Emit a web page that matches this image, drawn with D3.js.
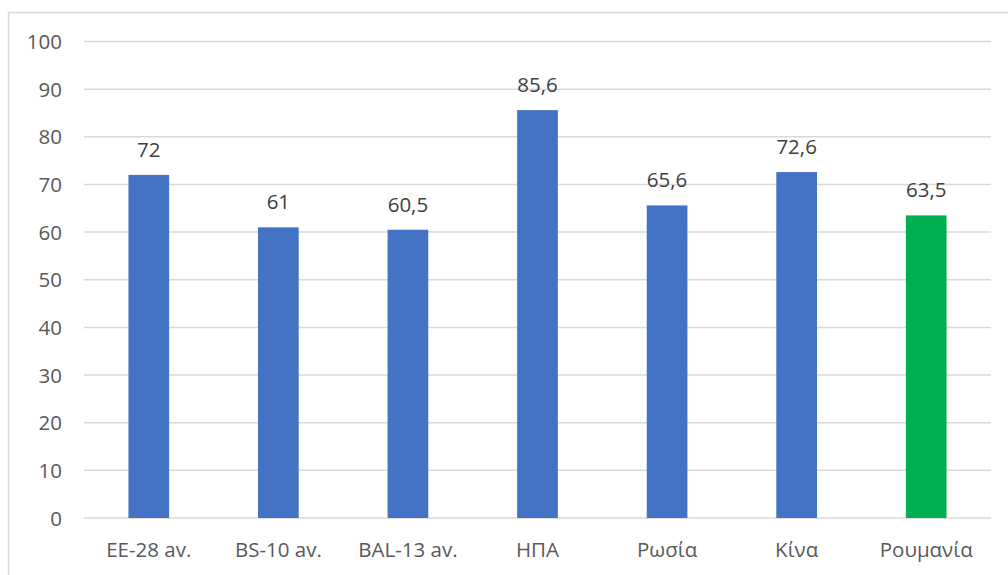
<!DOCTYPE html>
<html><head><meta charset="utf-8">
<script src="https://cdn.jsdelivr.net/npm/d3@7"></script>
<style>body{margin:0;background:#fff;} svg{display:block;}</style>
</head><body>
<svg id="c" width="1008" height="575"></svg>
<script>
const categories = ["EE-28 av.", "BS-10 av.", "BAL-13 av.", "ΗΠΑ", "Ρωσία", "Κίνα", "Ρουμανία"];
const values = [72, 61, 60.5, 85.6, 65.6, 72.6, 63.5];
const labels = ["72", "61", "60,5", "85,6", "65,6", "72,6", "63,5"];
const colors = ["#4472C4", "#4472C4", "#4472C4", "#4472C4", "#4472C4", "#4472C4", "#00B050"];
const yTicks = [0, 10, 20, 30, 40, 50, 60, 70, 80, 90, 100];

const svg = d3.select("#c");
const font = "'Open Sans', sans-serif";
const fs = 20.5;
svg.append("rect").attr("x", 8.5).attr("y", 12.5).attr("width", 1010).attr("height", 570)
  .attr("fill", "#fff").attr("stroke", "#d9d9d9").attr("stroke-width", 1.5);

const x = d3.scaleBand().domain(categories).range([84, 991]).paddingInner(0.686).paddingOuter(0.343);
const y = d3.scaleLinear().domain([0, 100]).range([518, 41.5]);

const g = svg.append("g");
g.selectAll("line.grid").data(yTicks).enter().append("line")
  .attr("x1", 84).attr("x2", 991).attr("y1", d => y(d)).attr("y2", d => y(d))
  .attr("stroke", "#d9d9d9").attr("stroke-width", 1.5);

const yAxis = d3.axisLeft(y).tickValues(yTicks).tickSize(0).tickPadding(0);
const ya = svg.append("g").attr("transform", "translate(62,0)").call(yAxis);
ya.select(".domain").remove();
ya.selectAll("text").attr("font-family", font).attr("font-size", fs).attr("fill", "#595959").attr("dy", "0.35em");

g.selectAll("rect.bar").data(values).enter().append("rect")
  .attr("x", (d, i) => x(categories[i])).attr("width", x.bandwidth())
  .attr("y", d => y(d)).attr("height", d => y(0) - y(d))
  .attr("fill", (d, i) => colors[i]);

g.selectAll("text.val").data(values).enter().append("text")
  .attr("x", (d, i) => x(categories[i]) + x.bandwidth() / 2)
  .attr("y", d => y(d) - 18)
  .attr("text-anchor", "middle").attr("font-family", font).attr("font-size", fs).attr("fill", "#404040")
  .text((d, i) => labels[i]);

const xAxis = d3.axisBottom(x).tickSize(0).tickPadding(0);
const xa = svg.append("g").attr("transform", "translate(0,518)").call(xAxis);
xa.select(".domain").remove();
xa.selectAll("text").attr("font-family", font).attr("font-size", fs).attr("fill", "#595959").attr("dy", null).attr("y", 39);
</script>
</body></html>
